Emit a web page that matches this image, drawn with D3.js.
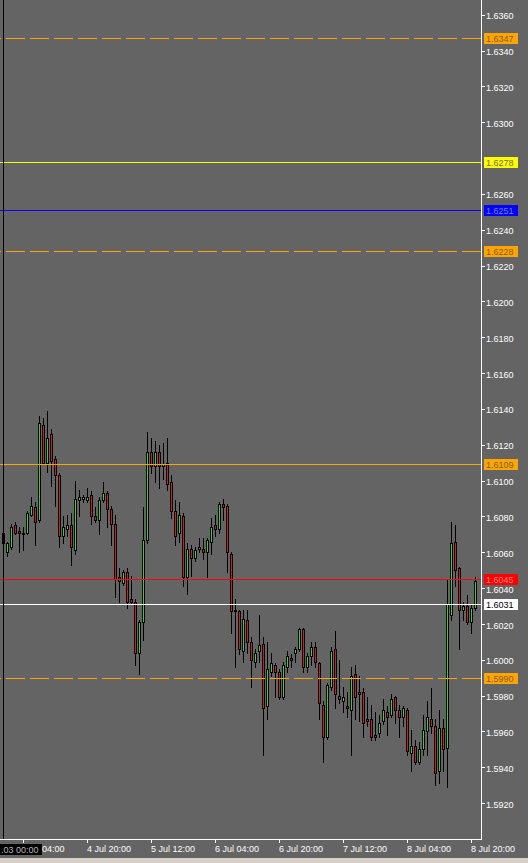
<!DOCTYPE html>
<html><head><meta charset="utf-8">
<script src="https://cdn.jsdelivr.net/npm/d3@7"></script>
<style>
html,body{margin:0;padding:0;background:#646464;overflow:hidden}
svg{display:block}
text{font-family:"Liberation Sans",Arial,sans-serif;font-size:9px}
</style></head><body>
<svg id="c" width="528" height="863"></svg>
<script>
// ---- DATA (GBP/USD H1, bars 0..118) ----
const open = [
1.6071,1.6060,1.6063,1.6075,1.6072,1.6070,1.6071,1.6081,1.6085,1.6078,
1.6131,1.6110,1.6126,1.6112,1.6103,1.6069,1.6073,1.6075,1.6061,1.6089,
1.6090,1.6089,1.6092,1.6080,1.6078,1.6089,1.6093,1.6084,1.6076,1.6046,
1.6043,1.6049,1.6034,1.6032,1.6004,1.6021,1.6067,1.6116,1.6108,1.6116,
1.6108,1.6110,1.6099,1.6083,1.6071,1.6080,1.6046,1.6062,1.6057,1.6062,
1.6062,1.6060,1.6066,1.6075,1.6073,1.6087,1.6086,1.6059,1.6028,1.6027,
1.6005,1.6022,1.6010,1.5999,1.6005,1.6009,1.5974,1.5993,1.5997,1.5993,
1.5979,1.5996,1.6001,1.6004,1.6006,1.6017,1.5996,1.6002,1.6007,1.5998,
1.5975,1.5957,1.5985,1.6006,1.5980,1.5977,1.5974,1.5972,1.5992,1.5982,
1.5982,1.5967,1.5967,1.5958,1.5959,1.5966,1.5971,1.5969,1.5979,1.5972,
1.5968,1.5972,1.5948,1.5952,1.5943,1.5950,1.5960,1.5967,1.5963,1.5938,
1.5962,1.5951,1.6025,1.6066,1.6051,1.6028,1.6030,1.6021,1.6029];
const high = [
1.6073,1.6066,1.6076,1.6077,1.6074,1.6074,1.6083,1.6091,1.6088,1.6136,
1.6135,1.6139,1.6129,1.6114,1.6104,1.6080,1.6081,1.6082,1.6100,1.6095,
1.6092,1.6096,1.6094,1.6085,1.6091,1.6099,1.6094,1.6086,1.6081,1.6051,
1.6050,1.6051,1.6047,1.6034,1.6022,1.6085,1.6127,1.6124,1.6122,1.6120,
1.6121,1.6124,1.6103,1.6089,1.6088,1.6082,1.6065,1.6064,1.6063,1.6068,
1.6068,1.6068,1.6079,1.6081,1.6088,1.6090,1.6087,1.6060,1.6034,1.6028,
1.6028,1.6028,1.6013,1.6006,1.6025,1.6013,1.6010,1.6004,1.5998,1.5995,
1.5999,1.6005,1.6003,1.6007,1.6018,1.6018,1.6004,1.6010,1.6010,1.5999,
1.5977,1.5987,1.6007,1.6016,1.6000,1.5985,1.5982,1.5996,1.5997,1.5991,
1.5984,1.5979,1.5975,1.5971,1.5969,1.5978,1.5974,1.5981,1.5980,1.5975,
1.5974,1.5973,1.5961,1.5955,1.5954,1.5969,1.5977,1.5984,1.5967,1.5972,
1.5967,1.6045,1.6077,1.6075,1.6052,1.6032,1.6036,1.6031,1.6046];
const low = [
1.6064,1.6058,1.6062,1.6070,1.6060,1.6061,1.6070,1.6080,1.6064,1.6077,
1.6109,1.6105,1.6097,1.6086,1.6063,1.6065,1.6069,1.6053,1.6059,1.6080,
1.6088,1.6088,1.6076,1.6077,1.6070,1.6088,1.6074,1.6064,1.6035,1.6032,
1.6042,1.6029,1.6031,1.5997,1.5992,1.6011,1.6065,1.6104,1.6099,1.6096,
1.6101,1.6095,1.6079,1.6064,1.6066,1.6041,1.6037,1.6047,1.6055,1.6060,
1.6056,1.6046,1.6059,1.6069,1.6071,1.6078,1.6049,1.6015,1.5996,1.6003,
1.5999,1.6004,1.5985,1.5996,1.5999,1.5947,1.5967,1.5991,1.5979,1.5978,
1.5978,1.5993,1.5996,1.5999,1.6005,1.5993,1.5993,1.5997,1.5996,1.5967,
1.5943,1.5956,1.5983,1.5973,1.5976,1.5971,1.5968,1.5947,1.5967,1.5966,
1.5957,1.5963,1.5955,1.5955,1.5957,1.5964,1.5958,1.5968,1.5965,1.5957,
1.5963,1.5947,1.5938,1.5942,1.5942,1.5947,1.5947,1.5959,1.5930,1.5931,
1.5938,1.5929,1.6022,1.6041,1.6006,1.6022,1.6020,1.6015,1.6028];
const close = [
1.6065,1.6065,1.6074,1.6071,1.6071,1.6071,1.6082,1.6086,1.6077,1.6132,
1.6110,1.6124,1.6111,1.6103,1.6069,1.6074,1.6075,1.6063,1.6090,1.6091,
1.6091,1.6091,1.6080,1.6078,1.6089,1.6093,1.6084,1.6076,1.6045,1.6044,
1.6049,1.6032,1.6032,1.6004,1.6021,1.6067,1.6116,1.6108,1.6116,1.6108,
1.6109,1.6098,1.6083,1.6069,1.6081,1.6046,1.6062,1.6057,1.6061,1.6063,
1.6060,1.6067,1.6074,1.6073,1.6087,1.6085,1.6060,1.6027,1.6027,1.6006,
1.6023,1.6010,1.6000,1.6004,1.6008,1.5973,1.5995,1.5998,1.5993,1.5979,
1.5997,1.6002,1.6000,1.6006,1.6017,1.5996,1.6002,1.6007,1.5999,1.5976,
1.5957,1.5986,1.6005,1.5981,1.5978,1.5979,1.5973,1.5991,1.5979,1.5981,
1.5965,1.5966,1.5957,1.5957,1.5965,1.5972,1.5968,1.5978,1.5972,1.5968,
1.5973,1.5949,1.5952,1.5943,1.5950,1.5961,1.5968,1.5963,1.5937,1.5962,
1.5950,1.6031,1.6065,1.6050,1.6028,1.6030,1.6021,1.6029,1.6044];

const timeTickBars   = [5, 21, 37, 53, 69, 85, 101, 117];
const timeTickLabels = ["4 Jul 04:00","4 Jul 20:00","5 Jul 12:00","6 Jul 04:00",
                        "6 Jul 20:00","7 Jul 12:00","8 Jul 04:00","8 Jul 20:00"];
const priceTicks = [1.5920,1.5940,1.5960,1.5980,1.6000,1.6020,1.6040,1.6060,1.6080,
  1.6100,1.6120,1.6140,1.6160,1.6180,1.6200,1.6220,1.6240,1.6260,1.6280,1.6300,
  1.6320,1.6340,1.6360];
const levelPrices = [1.6347, 1.6278, 1.6251, 1.6228, 1.6109, 1.6045, 1.6031, 1.5990];
const vLineBar = 0;
const vLineLabel = ".03 00:00";

// ---- STYLES ----
const levelStyle = [
  {c:"#ffa500", t:"#8a5c10", dash:true},
  {c:"#ffff00", t:"#707030", dash:false},
  {c:"#0000ff", t:"#7080ff", dash:false},
  {c:"#ffa500", t:"#8a5c10", dash:true},
  {c:"#ffa500", t:"#8a5c10", dash:false},
  {c:"#ff0000", t:"#ff8080", dash:false},
  {c:"#ffffff", t:"#000000", dash:false},
  {c:"#ffa500", t:"#8a5c10", dash:true}
];
const BULL = "#3ccc3c", BEAR = "#cc2020", BG = "#646464";

const W = 528, H = 863, plotR = 481, plotB = 839;
const svg = d3.select("#c");
svg.append("rect").attr("width",W).attr("height",H).attr("fill",BG);
svg.append("rect").attr("x",0).attr("y",858).attr("width",W).attr("height",5).attr("fill","#d4d0c8");

const x = d3.scaleLinear().domain([0, 118]).range([3, 3 + 4*118]);
const y = d3.scaleLinear().domain([1.5900, 1.63682]).range([plotB, 0]);

const bars = d3.range(open.length).map(i => ({i, o:open[i], h:high[i], l:low[i], c:close[i]}));
const bTop = d => Math.round(y(Math.max(d.o, d.c)));
const bBot = d => Math.round(y(Math.min(d.o, d.c)));

const plot = svg.append("g").attr("shape-rendering","crispEdges");
// wicks
plot.selectAll("rect.wick").data(bars).join("rect").attr("class","wick")
  .attr("x", d => x(d.i)).attr("width", 1)
  .attr("y", d => Math.round(y(d.h)))
  .attr("height", d => Math.round(y(d.l)) - Math.round(y(d.h)) + 1)
  .attr("fill","#000");
// body outlines
plot.selectAll("rect.bodyo").data(bars).join("rect").attr("class","bodyo")
  .attr("x", d => x(d.i) - 1).attr("width", 3)
  .attr("y", bTop).attr("height", d => bBot(d) - bTop(d) + 1)
  .attr("fill","#000");
// body fills
plot.selectAll("rect.bodyi").data(bars.filter(d => bBot(d) - bTop(d) >= 2)).join("rect").attr("class","bodyi")
  .attr("x", d => x(d.i)).attr("width", 1)
  .attr("y", d => bTop(d) + 1).attr("height", d => bBot(d) - bTop(d) - 1)
  .attr("fill", d => d.c >= d.o ? BULL : BEAR);

// level lines
const lv = svg.append("g").attr("shape-rendering","crispEdges");
levelPrices.forEach((p,k) => {
  const yy = Math.round(y(p)) + 0.5;
  const ln = lv.append("line").attr("x1",0).attr("x2",plotR).attr("y1",yy).attr("y2",yy)
    .attr("stroke",levelStyle[k].c).attr("stroke-width",1);
  if (levelStyle[k].dash) ln.attr("stroke-dasharray","19,5").attr("stroke-dashoffset",18);
});

// vertical line
svg.append("rect").attr("x",x(vLineBar)).attr("y",0).attr("width",1).attr("height",plotB)
  .attr("fill","#000").attr("shape-rendering","crispEdges");

// frame
const fr = svg.append("g").attr("shape-rendering","crispEdges").attr("stroke","#fff");
fr.append("line").attr("x1",0).attr("x2",plotR+1).attr("y1",plotB+0.5).attr("y2",plotB+0.5);
fr.append("line").attr("x1",plotR+0.5).attr("x2",plotR+0.5).attr("y1",0).attr("y2",plotB+1);

// price axis
const levelY = levelPrices.map(p => y(p));
const visTicks = priceTicks.filter(t => levelY.every(ly => Math.abs(y(t)-ly) >= 7));
const yAxis = d3.axisRight(y).tickValues(visTicks).tickSize(3).tickPadding(1)
  .tickFormat(d3.format(".4f"));
const gy = svg.append("g").attr("transform",`translate(${plotR+1},0)`).call(yAxis);
gy.select(".domain").remove();
gy.selectAll(".tick line").attr("stroke","#fff").attr("shape-rendering","crispEdges");
gy.selectAll(".tick text").attr("fill","#fff").attr("x",4).attr("dy","0.45em")
  .style("font-family",'"Liberation Sans",Arial,sans-serif').style("font-size","9px");

// time axis
const xAxis = d3.axisBottom(x).tickValues(timeTickBars).tickSize(4)
  .tickFormat((d,k) => timeTickLabels[k]);
const gx = svg.append("g").attr("transform",`translate(0,${plotB})`).call(xAxis);
gx.select(".domain").remove();
gx.selectAll(".tick line").attr("stroke","#fff").attr("shape-rendering","crispEdges");
gx.selectAll(".tick text").attr("fill","#fff").attr("text-anchor","start")
  .attr("x",-0.5).attr("y",13).attr("dy",0)
  .style("font-family",'"Liberation Sans",Arial,sans-serif').style("font-size","9px");

// vertical line time label (box covers the start of the first time label)
const boxR = 42;
svg.append("rect").attr("x",0).attr("y",844).attr("width",boxR).attr("height",11).attr("fill","#000");
svg.append("text").attr("x",38.5).attr("y",852.5).attr("text-anchor","end").attr("fill","#b8b8b8")
  .text(vLineLabel);
// trim the hidden part of any time label that runs under the box
gx.selectAll(".tick text").each(function(d,k){
  const t = d3.select(this);
  const tickX = x(d) + 0.5;
  if (tickX < boxR) {
    const full = timeTickLabels[k];
    const sp = full.lastIndexOf(" ");
    const prefix = full.slice(0, sp + 1);
    t.text(prefix);
    const w = this.getComputedTextLength();
    t.text(full.slice(sp + 1)).attr("x", -0.5 + w);
  }
});

// price labels of levels
const pl = svg.append("g");
levelPrices.forEach((p,k) => {
  const yy = Math.round(y(p));
  pl.append("rect").attr("x",484).attr("y",yy-5).attr("width",34).attr("height",11)
    .attr("fill",levelStyle[k].c).attr("shape-rendering","crispEdges");
  pl.append("text").attr("x",486).attr("y",yy+3.8).attr("fill",levelStyle[k].t)
    .text(d3.format(".4f")(p));
});
</script>
</body></html>
